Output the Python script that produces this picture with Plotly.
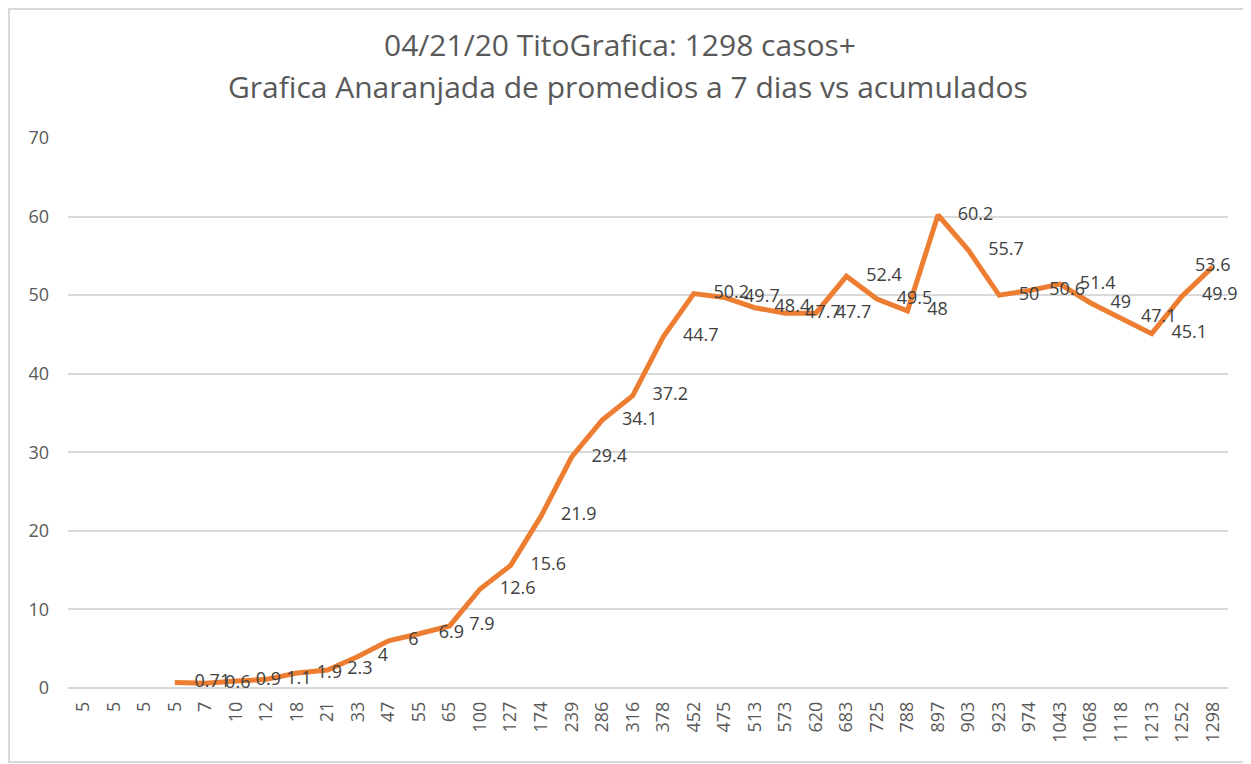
import plotly.graph_objects as go

# Data
categories = ["5", "5", "5", "5", "7", "10", "12", "18", "21", "33",
              "47", "55", "65", "100", "127", "174", "239", "286", "316", "378",
              "452", "475", "513", "573", "620", "683", "725", "788", "897", "903",
              "923", "974", "1043", "1068", "1118", "1213", "1252", "1298"]
promedio_7_dias = [None, None, None, 0.71, 0.6, 0.9, 1.1, 1.9, 2.3, 4,
                   6, 6.9, 7.9, 12.6, 15.6, 21.9, 29.4, 34.1, 37.2, 44.7,
                   50.2, 49.7, 48.4, 47.7, 47.7, 52.4, 49.5, 48, 60.2, 55.7,
                   50, 50.6, 51.4, 49, 47.1, 45.1, 49.9, 53.6]
y_ticks = [0, 10, 20, 30, 40, 50, 60, 70]

title_line1 = "04/21/20 TitoGrafica: 1298 casos+"
title_line2 = "Grafica Anaranjada de promedios a 7 dias vs acumulados"

# page body has an 8px default margin; figure sized to fit the window
W, H = 1243, 756
L, R, T, B = 60, 23, 130, 76
pw, ph = W - L - R, H - T - B

x_idx = list(range(len(categories)))
text_pos = ["middle right"] * (len(categories) - 1) + ["middle center"]

FONT = "Open Sans"
ORANGE = "#ED7D31"
GRID = "#D9D9D9"
TXT = "#595959"

fig = go.Figure()
fig.add_trace(go.Scatter(
    x=x_idx, y=promedio_7_dias,
    mode="lines+markers+text",
    line=dict(color=ORANGE, width=5),
    marker=dict(size=30, color="rgba(0,0,0,0)"),
    text=[("" if v is None else f"{v:g}") for v in promedio_7_dias],
    textposition=text_pos,
    textfont=dict(family=FONT, size=18, color="#404040"),
    cliponaxis=False,
    connectgaps=False,
    showlegend=False,
))

fig.update_layout(
    width=W, height=H,
    margin=dict(l=L, r=R, t=T, b=B),
    paper_bgcolor="white", plot_bgcolor="white",
    title=dict(text=title_line1, x=612 / W, xanchor="center",
               y=1 - 37 / H, yanchor="middle",
               font=dict(family=FONT, size=30, color=TXT)),
    annotations=[dict(text=title_line2, xref="paper", yref="paper",
                      x=(620 - L) / pw, y=(680 - 79) / ph,
                      xanchor="center", yanchor="middle", showarrow=False,
                      font=dict(family=FONT, size=30, color=TXT))],
    shapes=[dict(type="rect", xref="paper", yref="paper",
                 x0=(1 - L) / pw, x1=(W + 5 - L) / pw,
                 y0=(680 - 754) / ph, y1=(680 - 1) / ph,
                 line=dict(color=GRID, width=2), fillcolor="rgba(0,0,0,0)",
                 layer="below")],
    xaxis=dict(
        tickmode="array", tickvals=x_idx, ticktext=categories,
        tickangle=-90, range=[-0.5, len(categories) - 0.5],
        showgrid=False, zeroline=False, showline=False, ticks="",
        tickfont=dict(family=FONT, size=18, color=TXT),
        ticklabelstandoff=9,
    ),
    yaxis=dict(
        range=[0, 70], tickvals=y_ticks,
        showgrid=True, gridcolor=GRID, gridwidth=1.5,
        zeroline=True, zerolinecolor=GRID, zerolinewidth=1.5,
        showline=False, ticks="",
        tickfont=dict(family=FONT, size=18, color=TXT),
        ticklabelstandoff=18,
    ),
)

fig.write_html("out.html")
